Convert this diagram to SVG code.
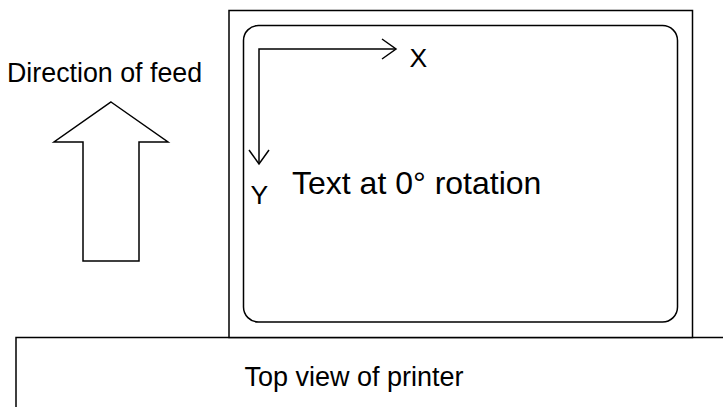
<svg xmlns="http://www.w3.org/2000/svg" width="723" height="407" viewBox="0 0 723 407">
  <style>
    .line { fill: none; stroke: #000; stroke-width: 1.5; }
    .box { fill: #fff; stroke: #000; stroke-width: 1.5; }
    .label { font-family: "Liberation Sans", Arial, sans-serif; fill: #000; }
  </style>
  <rect width="723" height="407" fill="#fff"/>

  <!-- printer body (extends past the page edge) -->
  <g id="printer">
    <rect class="box" x="16" y="337.5" width="720" height="90"/>
    <text class="label" x="244.5" y="385.5" font-size="27">Top view of printer</text>
  </g>

  <!-- feed direction arrow -->
  <g id="feed">
    <text class="label" x="7" y="81.5" font-size="26.8">Direction of feed</text>
    <polygon class="box" points="111,102 168,142 139,142 139,261 83,261 83,142 54,142"/>
  </g>

  <!-- media sheet with printable area -->
  <g id="media">
    <rect class="box" x="229" y="10.5" width="463.5" height="327"/>
    <rect class="line" x="243.5" y="25.5" width="434" height="296.5" rx="15" ry="15"/>
    <text class="label" x="292" y="193.5" font-size="32">Text at 0° rotation</text>
  </g>

  <!-- coordinate axes -->
  <g id="axes">
    <path class="line" d="M259,164 V49 H396"/>
    <path class="line" d="M382,39 L396,49 L382,59"/>
    <path class="line" d="M249,150 L259,164 L269,150"/>
    <text class="label" x="409.5" y="66.5" font-size="26.5">X</text>
    <text class="label" x="250.5" y="204" font-size="26.5">Y</text>
  </g>
</svg>
